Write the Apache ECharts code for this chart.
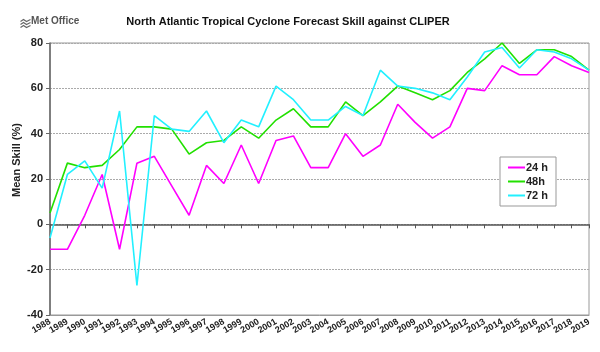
<!DOCTYPE html>
<html>
<head>
<meta charset="utf-8">
<script src="https://cdn.jsdelivr.net/npm/echarts@6/dist/echarts.min.js"></script>
<style>
  html, body { margin: 0; padding: 0; background: #fff; }
  #chart { width: 600px; height: 352px; }
</style>
</head>
<body>
<div id="chart"></div>
<script>
  // forecast years
  var years = ['1988', '1989', '1990', '1991', '1992', '1993', '1994', '1995', '1996', '1997',
    '1998', '1999', '2000', '2001', '2002', '2003', '2004', '2005', '2006', '2007',
    '2008', '2009', '2010', '2011', '2012', '2013', '2014', '2015', '2016', '2017',
    '2018', '2019'];

  // mean skill (%) vs CLIPER
  var skill24 = [-11, -11, 4, 22, -11, 27, 30, 17, 4, 26,
    18, 35, 18, 37, 39, 25, 25, 40, 30, 35,
    53, 45, 38, 43, 60, 59, 70, 66, 66, 74,
    70, 67];
  var skill48 = [5, 27, 25, 26, 33, 43, 43, 42, 31, 36,
    37, 43, 38, 46, 51, 43, 43, 54, 48, 54,
    61, 58, 55, 59, 67, 73, 80, 71, 77, 77,
    74, 68];
  var skill72 = [-6, 22, 28, 16, 50, -27, 48, 42, 41, 50,
    36, 46, 43, 61, 55, 46, 46, 52, 48, 68,
    61, 60, 58, 55, 65, 76, 78, 69, 77, 76,
    73, 68];

  var font = '"Liberation Sans", sans-serif';

  var myChart = echarts.init(document.getElementById('chart'));

  myChart.setOption({
    animation: false,
    textStyle: { fontFamily: font },
    title: {
      text: 'North Atlantic Tropical Cyclone Forecast Skill against CLIPER',
      left: 283,
      textAlign: 'center',
      top: 11,
      textStyle: { fontSize: 11, fontWeight: 'bold', color: '#111', fontFamily: font }
    },
    graphic: [
      // Met Office logo
      {
        type: 'text', left: 31, top: 16,
        style: { text: 'Met Office', fontSize: 10, fontWeight: 'bold', fill: '#555', fontFamily: font }
      },
      {
        type: 'group', left: 18, top: 17,
        children: [
          { type: 'polyline', shape: { points: [[0, 2], [3, 0], [6, 2], [10, 0]] }, style: { stroke: '#666', lineWidth: 1.2, fill: null } },
          { type: 'polyline', shape: { points: [[0, 5], [3, 3], [6, 5], [10, 3]] }, style: { stroke: '#666', lineWidth: 1.2, fill: null } },
          { type: 'polyline', shape: { points: [[0, 8], [3, 6], [6, 8], [10, 6]] }, style: { stroke: '#666', lineWidth: 1.2, fill: null } }
        ]
      },
      // y axis title
      {
        type: 'text', x: 17, y: 160, rotation: Math.PI / 2,
        style: {
          text: 'Mean Skill (%)', fontSize: 11, fontWeight: 'bold', fill: '#222',
          align: 'center', verticalAlign: 'middle', fontFamily: font
        }
      }
    ],
    legend: {
      orient: 'vertical',
      left: 500,
      top: 157,
      icon: 'rect',
      itemWidth: 17,
      itemHeight: 2,
      itemGap: 3,
      padding: [5, 8, 5, 8],
      backgroundColor: '#fff',
      borderColor: '#999',
      borderWidth: 1,
      textStyle: { fontSize: 11, fontWeight: 'bold', color: '#222', padding: [0, 0, 0, -4] },
      data: ['24 h', '48h', '72 h']
    },
    grid: {
      left: 50, right: 11, top: 43, bottom: 37,
      show: true, borderColor: '#999', borderWidth: 1
    },
    xAxis: [
      {
        type: 'category',
        data: years,
        boundaryGap: false,
        position: 'bottom',
        axisLine: { onZero: false, lineStyle: { color: '#999' } },
        axisTick: { show: false },
        axisLabel: {
          interval: 0, rotate: 30, fontSize: 9, fontWeight: 'bold', color: '#222', margin: 6
        },
        splitLine: { show: false }
      },
      {
        type: 'category',
        data: years,
        boundaryGap: false,
        position: 'bottom',
        axisLine: { onZero: true, lineStyle: { color: '#555', width: 1.5 } },
        axisTick: { show: true, interval: 0, length: 4, lineStyle: { color: '#555' } },
        axisLabel: { show: false },
        splitLine: { show: false }
      }
    ],
    yAxis: {
      type: 'value',
      min: -40,
      max: 80,
      interval: 20,
      axisLine: { show: true, lineStyle: { color: '#666', width: 1.5 } },
      axisTick: { show: true, length: 4, lineStyle: { color: '#666' } },
      axisLabel: { fontSize: 11, fontWeight: 'bold', color: '#222', margin: 7 },
      splitLine: { lineStyle: { color: '#aaa', type: [2, 1] } }
    },
    series: [
      {
        name: '24 h', type: 'line', data: skill24, symbol: 'none',
        itemStyle: { color: '#ff00ff' }, lineStyle: { color: '#ff00ff', width: 1.6 }
      },
      {
        name: '48h', type: 'line', data: skill48, symbol: 'none',
        itemStyle: { color: '#22e000' }, lineStyle: { color: '#22e000', width: 1.6 }
      },
      {
        name: '72 h', type: 'line', data: skill72, symbol: 'none',
        itemStyle: { color: '#22f0ff' }, lineStyle: { color: '#22f0ff', width: 1.6 }
      }
    ]
  });
</script>
</body>
</html>
